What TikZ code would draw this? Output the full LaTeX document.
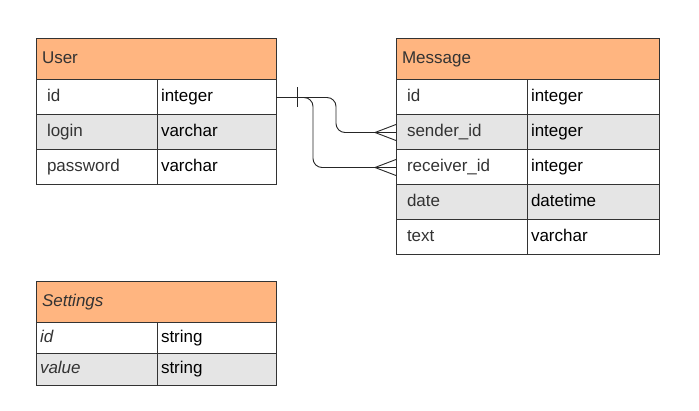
\documentclass[tikz,border=0pt]{standalone}
\usepackage{fontspec}
\setmainfont{Liberation Sans}
\usepackage{tikz}

\definecolor{hdrorange}{RGB}{255,181,128}
\definecolor{rowgrey}{RGB}{229,229,229}
\definecolor{edgegrey}{RGB}{51,51,51}

\tikzset{
  cell/.style={draw=edgegrey, line width=1pt, anchor=north west, inner ysep=0pt,
    outer sep=0pt, text height=12pt, text depth=4pt, font=\fontsize{17}{20}\selectfont},
  hdr/.style={cell, fill=hdrorange, text=edgegrey, inner xsep=6pt, minimum height=41pt},
  fname/.style={cell, text=edgegrey, inner xsep=11pt, text width=99pt, minimum height=#1},
  ftype/.style={cell, text=black, inner xsep=4pt, minimum height=35pt},
  grey/.style={fill=rowgrey},
  link/.style={line width=0.9pt, draw=black!85}
}

\begin{document}
\begin{tikzpicture}[x=1pt,y=-1pt]
\useasboundingbox (0,0) rectangle (699,411);

% User
\node[hdr, text width=228pt] (user) at (36,39) {User};
\node[fname=35pt] (user-id) at (36,80) {id};
\node[ftype, text width=111pt] (user-id-t) at (157,80) {integer};
\node[fname=35pt, grey] (user-login) at (36,115) {login};
\node[ftype, text width=111pt, grey] (user-login-t) at (157,115) {varchar};
\node[fname=35pt] (user-pass) at (36,150) {password};
\node[ftype, text width=111pt] (user-pass-t) at (157,150) {varchar};

% Message
\node[hdr, text width=251pt] (msg) at (396,39) {Message};
\node[fname=35pt, text width=109pt] (msg-id) at (396,80) {id};
\node[ftype, text width=124pt] (msg-id-t) at (527,80) {integer};
\node[fname=35pt, text width=109pt, grey] (msg-sender) at (396,115) {sender\_id};
\node[ftype, text width=124pt, grey] (msg-sender-t) at (527,115) {integer};
\node[fname=35pt, text width=109pt] (msg-receiver) at (396,150) {receiver\_id};
\node[ftype, text width=124pt] (msg-receiver-t) at (527,150) {integer};
\node[fname=35pt, text width=109pt, grey] (msg-date) at (396,185) {date};
\node[ftype, text width=124pt, grey] (msg-date-t) at (527,185) {datetime};
\node[fname=35pt, text width=109pt] (msg-text) at (396,220) {text};
\node[ftype, text width=124pt] (msg-text-t) at (527,220) {varchar};

% Settings
\node[hdr, text width=228pt] (settings) at (36,282) {\itshape Settings};
\node[fname=31pt, inner xsep=4pt, text width=113pt] (set-id) at (36,323) {\itshape id};
\node[ftype, text width=111pt, minimum height=31pt] (set-id-t) at (157,323) {string};
\node[fname=32pt, inner xsep=4pt, text width=113pt, grey] (set-value) at (36,354) {\itshape value};
\node[ftype, text width=111pt, minimum height=32pt, grey] (set-value-t) at (157,354) {string};

% relations
\draw[link, rounded corners=9pt] (user-id-t.east) -| ([xshift=-60pt]msg-sender.west) -- (msg-sender.west);
\draw[link, rounded corners=9pt] (user-id-t.east) -| ([xshift=-83pt]msg-receiver.west) -- (msg-receiver.west);
\draw[link] ([xshift=21pt,yshift=10pt]user-id-t.east) -- ([xshift=21pt,yshift=-10pt]user-id-t.east);

\draw[link] ([yshift=8pt]msg-sender.west) -- ([xshift=-21pt]msg-sender.west) -- ([yshift=-8pt]msg-sender.west);
\draw[link] ([yshift=8pt]msg-receiver.west) -- ([xshift=-21pt]msg-receiver.west) -- ([yshift=-8pt]msg-receiver.west);
\end{tikzpicture}
\end{document}
